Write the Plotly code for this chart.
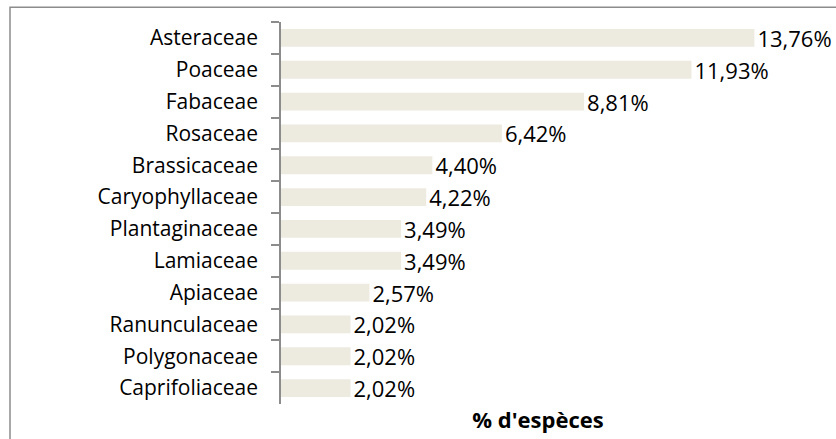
import plotly.graph_objects as go

families = ["Asteraceae", "Poaceae", "Fabaceae", "Rosaceae", "Brassicaceae",
            "Caryophyllaceae", "Plantaginaceae", "Lamiaceae", "Apiaceae",
            "Ranunculaceae", "Polygonaceae", "Caprifoliaceae"]
percent = [13.76, 11.93, 8.81, 6.42, 4.40, 4.22, 3.49, 3.49, 2.57, 2.02, 2.02, 2.02]
labels = [f"{v:.2f}".replace(".", ",") + "%" for v in percent]

FONT = "Open Sans, sans-serif"
L, R, T, B = 281, 41, 22, 31
W, H = 836, 439
PW, PH = W - L - R, H - T - B

fig = go.Figure()
fig.add_trace(go.Bar(
    x=percent, y=families, orientation="h",
    marker=dict(color="#EDEAE0", line=dict(width=0)),
    text=labels, textposition="outside", cliponaxis=False,
    constraintext="none",
    textfont=dict(family=FONT, size=22, color="#000000"),
    hoverinfo="skip",
))

fig.update_layout(
    width=W, height=H,
    margin=dict(l=L, r=R, t=T, b=B),
    paper_bgcolor="white", plot_bgcolor="white",
    bargap=0.44, showlegend=False,
    font=dict(family=FONT, color="#000000"),
    xaxis=dict(range=[0, 14.94], showgrid=False, zeroline=False,
               showticklabels=False, showline=False, ticks="",
               title=dict(text="<b>% d'espèces</b>", standoff=8,
                          font=dict(family=FONT, size=22))),
    yaxis=dict(autorange="reversed", showgrid=False, zeroline=False,
               showline=True, linecolor="#8C8C8C", linewidth=1.5,
               ticks="outside", tickson="boundaries", ticklen=8,
               tickcolor="#8C8C8C", tickwidth=1.5, ticklabelstandoff=17,
               tickfont=dict(family=FONT, size=21, color="#000000")),
    shapes=[dict(type="rect", xref="paper", yref="paper",
                 x0=(10 - L) / PW, x1=1.3, y0=-0.3, y1=1 + (T - 7) / PH,
                 line=dict(color="#8C8C8C", width=1.5), fillcolor="rgba(0,0,0,0)",
                 layer="below")],
)

fig.write_html("out.html")
